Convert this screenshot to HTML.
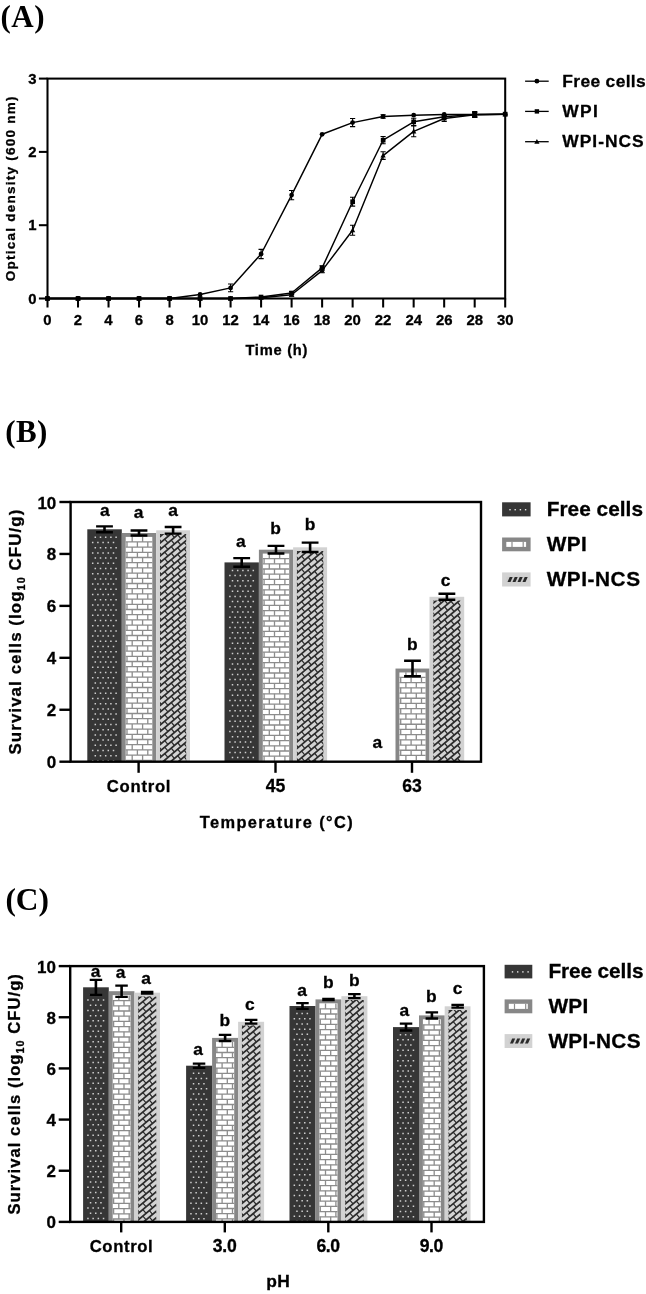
<!DOCTYPE html>
<html lang="en"><head><meta charset="utf-8"><title>Figure</title>
<style>html,body{margin:0;padding:0;background:#fff}svg{display:block}text{font-family:'Liberation Sans', Arial, Helvetica, sans-serif;font-weight:bold;fill:#000;stroke:#000;stroke-width:.3px}</style></head><body>
<svg width="646" height="1294" viewBox="0 0 646 1294">
<rect width="646" height="1294" fill="#fff"/>
<text x="0.5" y="26.6" font-size="31" text-anchor="start" textLength="44.0" lengthAdjust="spacing" style="font-family:'Liberation Serif', 'Times New Roman', Times, serif;stroke:none">(A)</text>
<text x="5.2" y="442.2" font-size="31" text-anchor="start" textLength="42.2" lengthAdjust="spacing" style="font-family:'Liberation Serif', 'Times New Roman', Times, serif;stroke:none">(B)</text>
<text x="5.5" y="910.0" font-size="31.4" text-anchor="start" textLength="43.4" lengthAdjust="spacing" style="font-family:'Liberation Serif', 'Times New Roman', Times, serif;stroke:none">(C)</text>
<g id="panelA">
<rect x="47.5" y="78.6" width="457.7" height="219.9" fill="none" stroke="#000" stroke-width="2.05"/>
<line x1="47.50" y1="298.50" x2="47.50" y2="307.50" stroke="#000" stroke-width="2.05"/>
<text x="47.5" y="325.4" font-size="14.9" text-anchor="middle">0</text>
<line x1="78.01" y1="298.50" x2="78.01" y2="307.50" stroke="#000" stroke-width="2.05"/>
<text x="78.0" y="325.4" font-size="14.9" text-anchor="middle">2</text>
<line x1="108.53" y1="298.50" x2="108.53" y2="307.50" stroke="#000" stroke-width="2.05"/>
<text x="108.5" y="325.4" font-size="14.9" text-anchor="middle">4</text>
<line x1="139.04" y1="298.50" x2="139.04" y2="307.50" stroke="#000" stroke-width="2.05"/>
<text x="139.0" y="325.4" font-size="14.9" text-anchor="middle">6</text>
<line x1="169.55" y1="298.50" x2="169.55" y2="307.50" stroke="#000" stroke-width="2.05"/>
<text x="169.6" y="325.4" font-size="14.9" text-anchor="middle">8</text>
<line x1="200.07" y1="298.50" x2="200.07" y2="307.50" stroke="#000" stroke-width="2.05"/>
<text x="200.1" y="325.4" font-size="14.9" text-anchor="middle">10</text>
<line x1="230.58" y1="298.50" x2="230.58" y2="307.50" stroke="#000" stroke-width="2.05"/>
<text x="230.6" y="325.4" font-size="14.9" text-anchor="middle">12</text>
<line x1="261.09" y1="298.50" x2="261.09" y2="307.50" stroke="#000" stroke-width="2.05"/>
<text x="261.1" y="325.4" font-size="14.9" text-anchor="middle">14</text>
<line x1="291.61" y1="298.50" x2="291.61" y2="307.50" stroke="#000" stroke-width="2.05"/>
<text x="291.6" y="325.4" font-size="14.9" text-anchor="middle">16</text>
<line x1="322.12" y1="298.50" x2="322.12" y2="307.50" stroke="#000" stroke-width="2.05"/>
<text x="322.1" y="325.4" font-size="14.9" text-anchor="middle">18</text>
<line x1="352.63" y1="298.50" x2="352.63" y2="307.50" stroke="#000" stroke-width="2.05"/>
<text x="352.6" y="325.4" font-size="14.9" text-anchor="middle">20</text>
<line x1="383.15" y1="298.50" x2="383.15" y2="307.50" stroke="#000" stroke-width="2.05"/>
<text x="383.1" y="325.4" font-size="14.9" text-anchor="middle">22</text>
<line x1="413.66" y1="298.50" x2="413.66" y2="307.50" stroke="#000" stroke-width="2.05"/>
<text x="413.7" y="325.4" font-size="14.9" text-anchor="middle">24</text>
<line x1="444.17" y1="298.50" x2="444.17" y2="307.50" stroke="#000" stroke-width="2.05"/>
<text x="444.2" y="325.4" font-size="14.9" text-anchor="middle">26</text>
<line x1="474.69" y1="298.50" x2="474.69" y2="307.50" stroke="#000" stroke-width="2.05"/>
<text x="474.7" y="325.4" font-size="14.9" text-anchor="middle">28</text>
<line x1="505.20" y1="298.50" x2="505.20" y2="307.50" stroke="#000" stroke-width="2.05"/>
<text x="505.2" y="325.4" font-size="14.9" text-anchor="middle">30</text>
<line x1="38.90" y1="298.50" x2="47.50" y2="298.50" stroke="#000" stroke-width="2.05"/>
<text x="36.5" y="303.7" font-size="14.9" text-anchor="end">0</text>
<line x1="38.90" y1="225.20" x2="47.50" y2="225.20" stroke="#000" stroke-width="2.05"/>
<text x="36.5" y="230.4" font-size="14.9" text-anchor="end">1</text>
<line x1="38.90" y1="151.90" x2="47.50" y2="151.90" stroke="#000" stroke-width="2.05"/>
<text x="36.5" y="157.1" font-size="14.9" text-anchor="end">2</text>
<line x1="38.90" y1="78.60" x2="47.50" y2="78.60" stroke="#000" stroke-width="2.05"/>
<text x="36.5" y="83.8" font-size="14.9" text-anchor="end">3</text>
<text x="276.4" y="354.6" font-size="14.7" text-anchor="middle" textLength="62.0" lengthAdjust="spacing">Time (h)</text>
<text transform="translate(15.2 188.9) rotate(-90)" font-size="13.5" text-anchor="middle" textLength="184.6" lengthAdjust="spacing">Optical density (600 nm)</text>
<polyline points="47.5,298.5 78.0,298.5 108.5,298.5 139.0,298.5 169.6,298.5 200.1,294.5 230.6,287.9 261.1,254.0 291.6,195.1 322.1,134.3 352.6,122.6 383.1,116.5 413.7,115.2 444.2,114.5 474.7,114.5 505.2,114.2" fill="none" stroke="#000" stroke-width="1.45" stroke-linejoin="round"/>
<circle cx="47.5" cy="298.5" r="2.4"/>
<circle cx="78.0" cy="298.5" r="2.4"/>
<circle cx="108.5" cy="298.5" r="2.4"/>
<circle cx="139.0" cy="298.5" r="2.4"/>
<circle cx="169.6" cy="298.5" r="2.4"/>
<circle cx="200.1" cy="294.5" r="2.4"/>
<path d="M230.6 284.0V291.8M228.0 284.0h5.2M228.0 291.8h5.2" stroke="#000" stroke-width="1.1" fill="none"/>
<circle cx="230.6" cy="287.9" r="2.4"/>
<path d="M261.1 249.4V258.6M258.5 249.4h5.2M258.5 258.6h5.2" stroke="#000" stroke-width="1.1" fill="none"/>
<circle cx="261.1" cy="254.0" r="2.4"/>
<path d="M291.6 190.5V199.8M289.0 190.5h5.2M289.0 199.8h5.2" stroke="#000" stroke-width="1.1" fill="none"/>
<circle cx="291.6" cy="195.1" r="2.4"/>
<circle cx="322.1" cy="134.3" r="2.4"/>
<path d="M352.6 118.5V126.6M350.0 118.5h5.2M350.0 126.6h5.2" stroke="#000" stroke-width="1.1" fill="none"/>
<circle cx="352.6" cy="122.6" r="2.4"/>
<path d="M383.1 114.7V118.3M380.5 114.7h5.2M380.5 118.3h5.2" stroke="#000" stroke-width="1.1" fill="none"/>
<circle cx="383.1" cy="116.5" r="2.4"/>
<circle cx="413.7" cy="115.2" r="2.4"/>
<circle cx="444.2" cy="114.5" r="2.4"/>
<path d="M474.7 112.3V116.7M472.1 112.3h5.2M472.1 116.7h5.2" stroke="#000" stroke-width="1.1" fill="none"/>
<circle cx="474.7" cy="114.5" r="2.4"/>
<circle cx="505.2" cy="114.2" r="2.4"/>
<polyline points="47.5,298.5 78.0,298.5 108.5,298.5 139.0,298.5 169.6,298.5 200.1,298.5 230.6,298.5 261.1,297.0 291.6,293.0 322.1,267.9 352.6,201.7 383.1,140.2 413.7,121.8 444.2,116.7 474.7,114.5 505.2,114.2" fill="none" stroke="#000" stroke-width="1.45" stroke-linejoin="round"/>
<rect x="45.1" y="296.1" width="4.7" height="4.7"/>
<rect x="75.7" y="296.1" width="4.7" height="4.7"/>
<rect x="106.2" y="296.1" width="4.7" height="4.7"/>
<rect x="136.7" y="296.1" width="4.7" height="4.7"/>
<rect x="167.2" y="296.1" width="4.7" height="4.7"/>
<rect x="197.7" y="296.1" width="4.7" height="4.7"/>
<rect x="228.2" y="296.1" width="4.7" height="4.7"/>
<rect x="258.7" y="294.7" width="4.7" height="4.7"/>
<path d="M291.6 291.5V294.5M289.0 291.5h5.2M289.0 294.5h5.2" stroke="#000" stroke-width="1.1" fill="none"/>
<rect x="289.3" y="290.7" width="4.7" height="4.7"/>
<path d="M322.1 265.7V270.1M319.5 265.7h5.2M319.5 270.1h5.2" stroke="#000" stroke-width="1.1" fill="none"/>
<rect x="319.8" y="265.6" width="4.7" height="4.7"/>
<path d="M352.6 197.3V206.1M350.0 197.3h5.2M350.0 206.1h5.2" stroke="#000" stroke-width="1.1" fill="none"/>
<rect x="350.3" y="199.4" width="4.7" height="4.7"/>
<path d="M383.1 136.5V143.8M380.5 136.5h5.2M380.5 143.8h5.2" stroke="#000" stroke-width="1.1" fill="none"/>
<rect x="380.8" y="137.8" width="4.7" height="4.7"/>
<path d="M413.7 118.2V125.5M411.1 118.2h5.2M411.1 125.5h5.2" stroke="#000" stroke-width="1.1" fill="none"/>
<rect x="411.3" y="119.5" width="4.7" height="4.7"/>
<path d="M444.2 114.5V118.9M441.6 114.5h5.2M441.6 118.9h5.2" stroke="#000" stroke-width="1.1" fill="none"/>
<rect x="441.8" y="114.4" width="4.7" height="4.7"/>
<path d="M474.7 111.6V117.4M472.1 111.6h5.2M472.1 117.4h5.2" stroke="#000" stroke-width="1.1" fill="none"/>
<rect x="472.3" y="112.2" width="4.7" height="4.7"/>
<rect x="502.8" y="111.8" width="4.7" height="4.7"/>
<polyline points="47.5,298.5 78.0,298.5 108.5,298.5 139.0,298.5 169.6,298.5 200.1,298.5 230.6,298.5 261.1,297.8 291.6,294.8 322.1,270.6 352.6,230.3 383.1,155.6 413.7,131.4 444.2,118.5 474.7,114.9 505.2,114.2" fill="none" stroke="#000" stroke-width="1.45" stroke-linejoin="round"/>
<path d="M47.5 295.7L50.1 300.5H44.9Z"/>
<path d="M78.0 295.7L80.6 300.5H75.4Z"/>
<path d="M108.5 295.7L111.1 300.5H105.9Z"/>
<path d="M139.0 295.7L141.6 300.5H136.4Z"/>
<path d="M169.6 295.7L172.2 300.5H167.0Z"/>
<path d="M200.1 295.7L202.7 300.5H197.5Z"/>
<path d="M230.6 295.7L233.2 300.5H228.0Z"/>
<path d="M261.1 295.0L263.7 299.8H258.5Z"/>
<path d="M291.6 293.4V296.3M289.0 293.4h5.2M289.0 296.3h5.2" stroke="#000" stroke-width="1.1" fill="none"/>
<path d="M291.6 292.0L294.2 296.8H289.0Z"/>
<path d="M322.1 268.4V272.8M319.5 268.4h5.2M319.5 272.8h5.2" stroke="#000" stroke-width="1.1" fill="none"/>
<path d="M322.1 267.8L324.7 272.6H319.5Z"/>
<path d="M352.6 225.3V235.3M350.0 225.3h5.2M350.0 235.3h5.2" stroke="#000" stroke-width="1.1" fill="none"/>
<path d="M352.6 227.5L355.2 232.3H350.0Z"/>
<path d="M383.1 151.8V159.4M380.5 151.8h5.2M380.5 159.4h5.2" stroke="#000" stroke-width="1.1" fill="none"/>
<path d="M383.1 152.8L385.7 157.6H380.5Z"/>
<path d="M413.7 126.0V136.8M411.1 126.0h5.2M411.1 136.8h5.2" stroke="#000" stroke-width="1.1" fill="none"/>
<path d="M413.7 128.6L416.3 133.4H411.1Z"/>
<path d="M444.2 115.6V121.5M441.6 115.6h5.2M441.6 121.5h5.2" stroke="#000" stroke-width="1.1" fill="none"/>
<path d="M444.2 115.7L446.8 120.5H441.6Z"/>
<path d="M474.7 112.7V117.1M472.1 112.7h5.2M472.1 117.1h5.2" stroke="#000" stroke-width="1.1" fill="none"/>
<path d="M474.7 112.1L477.3 116.9H472.1Z"/>
<path d="M505.2 111.4L507.8 116.2H502.6Z"/>
<line x1="525.10" y1="81.20" x2="548.70" y2="81.20" stroke="#000" stroke-width="1.3"/>
<circle cx="536.9" cy="81.2" r="2.4"/>
<text x="562.3" y="87.1" font-size="17.4" text-anchor="start" textLength="83.4" lengthAdjust="spacing">Free cells</text>
<line x1="525.10" y1="111.40" x2="548.70" y2="111.40" stroke="#000" stroke-width="1.3"/>
<rect x="534.7" y="109.2" width="4.4" height="4.4"/>
<text x="562.3" y="117.0" font-size="17.4" text-anchor="start" textLength="35.6" lengthAdjust="spacing">WPI</text>
<line x1="525.10" y1="141.70" x2="548.70" y2="141.70" stroke="#000" stroke-width="1.3"/>
<path d="M536.9 138.9L539.5 143.7H534.3Z"/>
<text x="562.3" y="146.7" font-size="17.4" text-anchor="start" textLength="81.4" lengthAdjust="spacing">WPI-NCS</text>
</g>
<g id="panelB">
<rect x="87.30" y="529.30" width="34.50" height="232.40" fill="#363636"/>
<path d="M95.30 536.55V761.70M100.50 536.55V761.70M105.70 536.55V761.70M110.90 536.55V761.70M116.10 536.55V761.70M92.70 541.75V761.70M97.90 541.75V761.70M103.10 541.75V761.70M108.30 541.75V761.70M113.50 541.75V761.70" stroke="#cfcfcf" stroke-width="1.5" stroke-dasharray="1.5 8.9" fill="none"/>
<rect x="121.80" y="533.00" width="34.40" height="228.70" fill="#878787"/>
<rect x="125.70" y="536.90" width="26.60" height="224.80" fill="#fff"/>
<path d="M139.00 541.25V761.70" stroke="#8c8c8c" stroke-width="26.60" stroke-dasharray="1.3 3.9" fill="none"/>
<path d="M132.20 536.70V761.70M142.60 536.70V761.70M127.00 541.90V761.70M137.40 541.90V761.70M147.80 541.90V761.70" stroke="#8c8c8c" stroke-width="1.3" stroke-dasharray="5.2 5.2" fill="none"/>
<rect x="156.20" y="530.30" width="33.80" height="231.40" fill="#d2d2d2"/>
<clipPath id="c1"><rect x="160.00" y="534.10" width="26.20" height="227.60"/></clipPath>
<rect x="160.00" y="534.10" width="26.20" height="227.60" fill="#d3d3d3"/>
<g clip-path="url(#c1)" stroke="#2c2c2c" fill="none"><path d="M159.0 530.94L187.2 507.25M159.0 537.44L187.2 513.75M159.0 543.94L187.2 520.25M159.0 550.44L187.2 526.75M159.0 556.94L187.2 533.25M159.0 563.44L187.2 539.75M159.0 569.94L187.2 546.25M159.0 576.44L187.2 552.75M159.0 582.94L187.2 559.25M159.0 589.44L187.2 565.75M159.0 595.94L187.2 572.25M159.0 602.44L187.2 578.75M159.0 608.94L187.2 585.25M159.0 615.44L187.2 591.75M159.0 621.94L187.2 598.25M159.0 628.44L187.2 604.75M159.0 634.94L187.2 611.25M159.0 641.44L187.2 617.75M159.0 647.94L187.2 624.25M159.0 654.44L187.2 630.75M159.0 660.94L187.2 637.25M159.0 667.44L187.2 643.75M159.0 673.94L187.2 650.25M159.0 680.44L187.2 656.75M159.0 686.94L187.2 663.25M159.0 693.44L187.2 669.75M159.0 699.94L187.2 676.25M159.0 706.44L187.2 682.75M159.0 712.94L187.2 689.25M159.0 719.44L187.2 695.75M159.0 725.94L187.2 702.25M159.0 732.44L187.2 708.75M159.0 738.94L187.2 715.25M159.0 745.44L187.2 721.75M159.0 751.94L187.2 728.25M159.0 758.44L187.2 734.75M159.0 764.94L187.2 741.25M159.0 771.44L187.2 747.75M159.0 777.94L187.2 754.25M159.0 784.44L187.2 760.75" stroke-width="1.75"/><path d="M158.20 531.61l3.20 3.81M164.70 526.15l3.20 3.81M171.20 520.69l3.20 3.81M177.70 515.23l3.20 3.81M184.20 509.77l3.20 3.81M158.20 538.11l3.20 3.81M164.70 532.65l3.20 3.81M171.20 527.19l3.20 3.81M177.70 521.73l3.20 3.81M184.20 516.27l3.20 3.81M158.20 544.61l3.20 3.81M164.70 539.15l3.20 3.81M171.20 533.69l3.20 3.81M177.70 528.23l3.20 3.81M184.20 522.77l3.20 3.81M158.20 551.11l3.20 3.81M164.70 545.65l3.20 3.81M171.20 540.19l3.20 3.81M177.70 534.73l3.20 3.81M184.20 529.27l3.20 3.81M158.20 557.61l3.20 3.81M164.70 552.15l3.20 3.81M171.20 546.69l3.20 3.81M177.70 541.23l3.20 3.81M184.20 535.77l3.20 3.81M158.20 564.11l3.20 3.81M164.70 558.65l3.20 3.81M171.20 553.19l3.20 3.81M177.70 547.73l3.20 3.81M184.20 542.27l3.20 3.81M158.20 570.61l3.20 3.81M164.70 565.15l3.20 3.81M171.20 559.69l3.20 3.81M177.70 554.23l3.20 3.81M184.20 548.77l3.20 3.81M158.20 577.11l3.20 3.81M164.70 571.65l3.20 3.81M171.20 566.19l3.20 3.81M177.70 560.73l3.20 3.81M184.20 555.27l3.20 3.81M158.20 583.61l3.20 3.81M164.70 578.15l3.20 3.81M171.20 572.69l3.20 3.81M177.70 567.23l3.20 3.81M184.20 561.77l3.20 3.81M158.20 590.11l3.20 3.81M164.70 584.65l3.20 3.81M171.20 579.19l3.20 3.81M177.70 573.73l3.20 3.81M184.20 568.27l3.20 3.81M158.20 596.61l3.20 3.81M164.70 591.15l3.20 3.81M171.20 585.69l3.20 3.81M177.70 580.23l3.20 3.81M184.20 574.77l3.20 3.81M158.20 603.11l3.20 3.81M164.70 597.65l3.20 3.81M171.20 592.19l3.20 3.81M177.70 586.73l3.20 3.81M184.20 581.27l3.20 3.81M158.20 609.61l3.20 3.81M164.70 604.15l3.20 3.81M171.20 598.69l3.20 3.81M177.70 593.23l3.20 3.81M184.20 587.77l3.20 3.81M158.20 616.11l3.20 3.81M164.70 610.65l3.20 3.81M171.20 605.19l3.20 3.81M177.70 599.73l3.20 3.81M184.20 594.27l3.20 3.81M158.20 622.61l3.20 3.81M164.70 617.15l3.20 3.81M171.20 611.69l3.20 3.81M177.70 606.23l3.20 3.81M184.20 600.77l3.20 3.81M158.20 629.11l3.20 3.81M164.70 623.65l3.20 3.81M171.20 618.19l3.20 3.81M177.70 612.73l3.20 3.81M184.20 607.27l3.20 3.81M158.20 635.61l3.20 3.81M164.70 630.15l3.20 3.81M171.20 624.69l3.20 3.81M177.70 619.23l3.20 3.81M184.20 613.77l3.20 3.81M158.20 642.11l3.20 3.81M164.70 636.65l3.20 3.81M171.20 631.19l3.20 3.81M177.70 625.73l3.20 3.81M184.20 620.27l3.20 3.81M158.20 648.61l3.20 3.81M164.70 643.15l3.20 3.81M171.20 637.69l3.20 3.81M177.70 632.23l3.20 3.81M184.20 626.77l3.20 3.81M158.20 655.11l3.20 3.81M164.70 649.65l3.20 3.81M171.20 644.19l3.20 3.81M177.70 638.73l3.20 3.81M184.20 633.27l3.20 3.81M158.20 661.61l3.20 3.81M164.70 656.15l3.20 3.81M171.20 650.69l3.20 3.81M177.70 645.23l3.20 3.81M184.20 639.77l3.20 3.81M158.20 668.11l3.20 3.81M164.70 662.65l3.20 3.81M171.20 657.19l3.20 3.81M177.70 651.73l3.20 3.81M184.20 646.27l3.20 3.81M158.20 674.61l3.20 3.81M164.70 669.15l3.20 3.81M171.20 663.69l3.20 3.81M177.70 658.23l3.20 3.81M184.20 652.77l3.20 3.81M158.20 681.11l3.20 3.81M164.70 675.65l3.20 3.81M171.20 670.19l3.20 3.81M177.70 664.73l3.20 3.81M184.20 659.27l3.20 3.81M158.20 687.61l3.20 3.81M164.70 682.15l3.20 3.81M171.20 676.69l3.20 3.81M177.70 671.23l3.20 3.81M184.20 665.77l3.20 3.81M158.20 694.11l3.20 3.81M164.70 688.65l3.20 3.81M171.20 683.19l3.20 3.81M177.70 677.73l3.20 3.81M184.20 672.27l3.20 3.81M158.20 700.61l3.20 3.81M164.70 695.15l3.20 3.81M171.20 689.69l3.20 3.81M177.70 684.23l3.20 3.81M184.20 678.77l3.20 3.81M158.20 707.11l3.20 3.81M164.70 701.65l3.20 3.81M171.20 696.19l3.20 3.81M177.70 690.73l3.20 3.81M184.20 685.27l3.20 3.81M158.20 713.61l3.20 3.81M164.70 708.15l3.20 3.81M171.20 702.69l3.20 3.81M177.70 697.23l3.20 3.81M184.20 691.77l3.20 3.81M158.20 720.11l3.20 3.81M164.70 714.65l3.20 3.81M171.20 709.19l3.20 3.81M177.70 703.73l3.20 3.81M184.20 698.27l3.20 3.81M158.20 726.61l3.20 3.81M164.70 721.15l3.20 3.81M171.20 715.69l3.20 3.81M177.70 710.23l3.20 3.81M184.20 704.77l3.20 3.81M158.20 733.11l3.20 3.81M164.70 727.65l3.20 3.81M171.20 722.19l3.20 3.81M177.70 716.73l3.20 3.81M184.20 711.27l3.20 3.81M158.20 739.61l3.20 3.81M164.70 734.15l3.20 3.81M171.20 728.69l3.20 3.81M177.70 723.23l3.20 3.81M184.20 717.77l3.20 3.81M158.20 746.11l3.20 3.81M164.70 740.65l3.20 3.81M171.20 735.19l3.20 3.81M177.70 729.73l3.20 3.81M184.20 724.27l3.20 3.81M158.20 752.61l3.20 3.81M164.70 747.15l3.20 3.81M171.20 741.69l3.20 3.81M177.70 736.23l3.20 3.81M184.20 730.77l3.20 3.81M158.20 759.11l3.20 3.81M164.70 753.65l3.20 3.81M171.20 748.19l3.20 3.81M177.70 742.73l3.20 3.81M184.20 737.27l3.20 3.81M158.20 765.61l3.20 3.81M164.70 760.15l3.20 3.81M171.20 754.69l3.20 3.81M177.70 749.23l3.20 3.81M184.20 743.77l3.20 3.81M158.20 772.11l3.20 3.81M164.70 766.65l3.20 3.81M171.20 761.19l3.20 3.81M177.70 755.73l3.20 3.81M184.20 750.27l3.20 3.81M158.20 778.61l3.20 3.81M164.70 773.15l3.20 3.81M171.20 767.69l3.20 3.81M177.70 762.23l3.20 3.81M184.20 756.77l3.20 3.81M158.20 785.11l3.20 3.81M164.70 779.65l3.20 3.81M171.20 774.19l3.20 3.81M177.70 768.73l3.20 3.81M184.20 763.27l3.20 3.81" stroke-width="1.25"/></g>
<rect x="224.50" y="562.40" width="34.40" height="199.30" fill="#363636"/>
<path d="M232.50 569.65V761.70M237.70 569.65V761.70M242.90 569.65V761.70M248.10 569.65V761.70M253.30 569.65V761.70M229.90 574.85V761.70M235.10 574.85V761.70M240.30 574.85V761.70M245.50 574.85V761.70M250.70 574.85V761.70" stroke="#cfcfcf" stroke-width="1.5" stroke-dasharray="1.5 8.9" fill="none"/>
<rect x="258.90" y="549.70" width="34.20" height="212.00" fill="#878787"/>
<rect x="262.80" y="553.60" width="26.40" height="208.10" fill="#fff"/>
<path d="M276.00 557.95V761.70" stroke="#8c8c8c" stroke-width="26.40" stroke-dasharray="1.3 3.9" fill="none"/>
<path d="M269.30 553.40V761.70M279.70 553.40V761.70M264.10 558.60V761.70M274.50 558.60V761.70M284.90 558.60V761.70" stroke="#8c8c8c" stroke-width="1.3" stroke-dasharray="5.2 5.2" fill="none"/>
<rect x="293.10" y="547.30" width="34.00" height="214.40" fill="#d2d2d2"/>
<clipPath id="c2"><rect x="296.90" y="551.10" width="26.40" height="210.60"/></clipPath>
<rect x="296.90" y="551.10" width="26.40" height="210.60" fill="#d3d3d3"/>
<g clip-path="url(#c2)" stroke="#2c2c2c" fill="none"><path d="M295.9 547.94L324.3 524.08M295.9 554.44L324.3 530.58M295.9 560.94L324.3 537.08M295.9 567.44L324.3 543.58M295.9 573.94L324.3 550.08M295.9 580.44L324.3 556.58M295.9 586.94L324.3 563.08M295.9 593.44L324.3 569.58M295.9 599.94L324.3 576.08M295.9 606.44L324.3 582.58M295.9 612.94L324.3 589.08M295.9 619.44L324.3 595.58M295.9 625.94L324.3 602.08M295.9 632.44L324.3 608.58M295.9 638.94L324.3 615.08M295.9 645.44L324.3 621.58M295.9 651.94L324.3 628.08M295.9 658.44L324.3 634.58M295.9 664.94L324.3 641.08M295.9 671.44L324.3 647.58M295.9 677.94L324.3 654.08M295.9 684.44L324.3 660.58M295.9 690.94L324.3 667.08M295.9 697.44L324.3 673.58M295.9 703.94L324.3 680.08M295.9 710.44L324.3 686.58M295.9 716.94L324.3 693.08M295.9 723.44L324.3 699.58M295.9 729.94L324.3 706.08M295.9 736.44L324.3 712.58M295.9 742.94L324.3 719.08M295.9 749.44L324.3 725.58M295.9 755.94L324.3 732.08M295.9 762.44L324.3 738.58M295.9 768.94L324.3 745.08M295.9 775.44L324.3 751.58M295.9 781.94L324.3 758.08" stroke-width="1.75"/><path d="M295.10 548.61l3.20 3.81M301.60 543.15l3.20 3.81M308.10 537.69l3.20 3.81M314.60 532.23l3.20 3.81M321.10 526.77l3.20 3.81M295.10 555.11l3.20 3.81M301.60 549.65l3.20 3.81M308.10 544.19l3.20 3.81M314.60 538.73l3.20 3.81M321.10 533.27l3.20 3.81M295.10 561.61l3.20 3.81M301.60 556.15l3.20 3.81M308.10 550.69l3.20 3.81M314.60 545.23l3.20 3.81M321.10 539.77l3.20 3.81M295.10 568.11l3.20 3.81M301.60 562.65l3.20 3.81M308.10 557.19l3.20 3.81M314.60 551.73l3.20 3.81M321.10 546.27l3.20 3.81M295.10 574.61l3.20 3.81M301.60 569.15l3.20 3.81M308.10 563.69l3.20 3.81M314.60 558.23l3.20 3.81M321.10 552.77l3.20 3.81M295.10 581.11l3.20 3.81M301.60 575.65l3.20 3.81M308.10 570.19l3.20 3.81M314.60 564.73l3.20 3.81M321.10 559.27l3.20 3.81M295.10 587.61l3.20 3.81M301.60 582.15l3.20 3.81M308.10 576.69l3.20 3.81M314.60 571.23l3.20 3.81M321.10 565.77l3.20 3.81M295.10 594.11l3.20 3.81M301.60 588.65l3.20 3.81M308.10 583.19l3.20 3.81M314.60 577.73l3.20 3.81M321.10 572.27l3.20 3.81M295.10 600.61l3.20 3.81M301.60 595.15l3.20 3.81M308.10 589.69l3.20 3.81M314.60 584.23l3.20 3.81M321.10 578.77l3.20 3.81M295.10 607.11l3.20 3.81M301.60 601.65l3.20 3.81M308.10 596.19l3.20 3.81M314.60 590.73l3.20 3.81M321.10 585.27l3.20 3.81M295.10 613.61l3.20 3.81M301.60 608.15l3.20 3.81M308.10 602.69l3.20 3.81M314.60 597.23l3.20 3.81M321.10 591.77l3.20 3.81M295.10 620.11l3.20 3.81M301.60 614.65l3.20 3.81M308.10 609.19l3.20 3.81M314.60 603.73l3.20 3.81M321.10 598.27l3.20 3.81M295.10 626.61l3.20 3.81M301.60 621.15l3.20 3.81M308.10 615.69l3.20 3.81M314.60 610.23l3.20 3.81M321.10 604.77l3.20 3.81M295.10 633.11l3.20 3.81M301.60 627.65l3.20 3.81M308.10 622.19l3.20 3.81M314.60 616.73l3.20 3.81M321.10 611.27l3.20 3.81M295.10 639.61l3.20 3.81M301.60 634.15l3.20 3.81M308.10 628.69l3.20 3.81M314.60 623.23l3.20 3.81M321.10 617.77l3.20 3.81M295.10 646.11l3.20 3.81M301.60 640.65l3.20 3.81M308.10 635.19l3.20 3.81M314.60 629.73l3.20 3.81M321.10 624.27l3.20 3.81M295.10 652.61l3.20 3.81M301.60 647.15l3.20 3.81M308.10 641.69l3.20 3.81M314.60 636.23l3.20 3.81M321.10 630.77l3.20 3.81M295.10 659.11l3.20 3.81M301.60 653.65l3.20 3.81M308.10 648.19l3.20 3.81M314.60 642.73l3.20 3.81M321.10 637.27l3.20 3.81M295.10 665.61l3.20 3.81M301.60 660.15l3.20 3.81M308.10 654.69l3.20 3.81M314.60 649.23l3.20 3.81M321.10 643.77l3.20 3.81M295.10 672.11l3.20 3.81M301.60 666.65l3.20 3.81M308.10 661.19l3.20 3.81M314.60 655.73l3.20 3.81M321.10 650.27l3.20 3.81M295.10 678.61l3.20 3.81M301.60 673.15l3.20 3.81M308.10 667.69l3.20 3.81M314.60 662.23l3.20 3.81M321.10 656.77l3.20 3.81M295.10 685.11l3.20 3.81M301.60 679.65l3.20 3.81M308.10 674.19l3.20 3.81M314.60 668.73l3.20 3.81M321.10 663.27l3.20 3.81M295.10 691.61l3.20 3.81M301.60 686.15l3.20 3.81M308.10 680.69l3.20 3.81M314.60 675.23l3.20 3.81M321.10 669.77l3.20 3.81M295.10 698.11l3.20 3.81M301.60 692.65l3.20 3.81M308.10 687.19l3.20 3.81M314.60 681.73l3.20 3.81M321.10 676.27l3.20 3.81M295.10 704.61l3.20 3.81M301.60 699.15l3.20 3.81M308.10 693.69l3.20 3.81M314.60 688.23l3.20 3.81M321.10 682.77l3.20 3.81M295.10 711.11l3.20 3.81M301.60 705.65l3.20 3.81M308.10 700.19l3.20 3.81M314.60 694.73l3.20 3.81M321.10 689.27l3.20 3.81M295.10 717.61l3.20 3.81M301.60 712.15l3.20 3.81M308.10 706.69l3.20 3.81M314.60 701.23l3.20 3.81M321.10 695.77l3.20 3.81M295.10 724.11l3.20 3.81M301.60 718.65l3.20 3.81M308.10 713.19l3.20 3.81M314.60 707.73l3.20 3.81M321.10 702.27l3.20 3.81M295.10 730.61l3.20 3.81M301.60 725.15l3.20 3.81M308.10 719.69l3.20 3.81M314.60 714.23l3.20 3.81M321.10 708.77l3.20 3.81M295.10 737.11l3.20 3.81M301.60 731.65l3.20 3.81M308.10 726.19l3.20 3.81M314.60 720.73l3.20 3.81M321.10 715.27l3.20 3.81M295.10 743.61l3.20 3.81M301.60 738.15l3.20 3.81M308.10 732.69l3.20 3.81M314.60 727.23l3.20 3.81M321.10 721.77l3.20 3.81M295.10 750.11l3.20 3.81M301.60 744.65l3.20 3.81M308.10 739.19l3.20 3.81M314.60 733.73l3.20 3.81M321.10 728.27l3.20 3.81M295.10 756.61l3.20 3.81M301.60 751.15l3.20 3.81M308.10 745.69l3.20 3.81M314.60 740.23l3.20 3.81M321.10 734.77l3.20 3.81M295.10 763.11l3.20 3.81M301.60 757.65l3.20 3.81M308.10 752.19l3.20 3.81M314.60 746.73l3.20 3.81M321.10 741.27l3.20 3.81M295.10 769.61l3.20 3.81M301.60 764.15l3.20 3.81M308.10 758.69l3.20 3.81M314.60 753.23l3.20 3.81M321.10 747.77l3.20 3.81M295.10 776.11l3.20 3.81M301.60 770.65l3.20 3.81M308.10 765.19l3.20 3.81M314.60 759.73l3.20 3.81M321.10 754.27l3.20 3.81M295.10 782.61l3.20 3.81M301.60 777.15l3.20 3.81M308.10 771.69l3.20 3.81M314.60 766.23l3.20 3.81M321.10 760.77l3.20 3.81" stroke-width="1.25"/></g>
<rect x="395.50" y="668.55" width="34.00" height="93.15" fill="#878787"/>
<rect x="399.40" y="672.45" width="26.20" height="89.25" fill="#fff"/>
<path d="M412.50 676.80V761.70" stroke="#8c8c8c" stroke-width="26.20" stroke-dasharray="1.3 3.9" fill="none"/>
<path d="M405.90 672.25V761.70M416.30 672.25V761.70M400.70 677.45V761.70M411.10 677.45V761.70M421.50 677.45V761.70" stroke="#8c8c8c" stroke-width="1.3" stroke-dasharray="5.2 5.2" fill="none"/>
<rect x="429.50" y="596.80" width="34.70" height="164.90" fill="#d2d2d2"/>
<clipPath id="c3"><rect x="433.30" y="600.60" width="27.10" height="161.10"/></clipPath>
<rect x="433.30" y="600.60" width="27.10" height="161.10" fill="#d3d3d3"/>
<g clip-path="url(#c3)" stroke="#2c2c2c" fill="none"><path d="M432.3 597.44L461.4 573.00M432.3 603.94L461.4 579.50M432.3 610.44L461.4 586.00M432.3 616.94L461.4 592.50M432.3 623.44L461.4 599.00M432.3 629.94L461.4 605.50M432.3 636.44L461.4 612.00M432.3 642.94L461.4 618.50M432.3 649.44L461.4 625.00M432.3 655.94L461.4 631.50M432.3 662.44L461.4 638.00M432.3 668.94L461.4 644.50M432.3 675.44L461.4 651.00M432.3 681.94L461.4 657.50M432.3 688.44L461.4 664.00M432.3 694.94L461.4 670.50M432.3 701.44L461.4 677.00M432.3 707.94L461.4 683.50M432.3 714.44L461.4 690.00M432.3 720.94L461.4 696.50M432.3 727.44L461.4 703.00M432.3 733.94L461.4 709.50M432.3 740.44L461.4 716.00M432.3 746.94L461.4 722.50M432.3 753.44L461.4 729.00M432.3 759.94L461.4 735.50M432.3 766.44L461.4 742.00M432.3 772.94L461.4 748.50M432.3 779.44L461.4 755.00M432.3 785.94L461.4 761.50" stroke-width="1.75"/><path d="M431.50 598.11l3.20 3.81M438.00 592.65l3.20 3.81M444.50 587.19l3.20 3.81M451.00 581.73l3.20 3.81M457.50 576.27l3.20 3.81M431.50 604.61l3.20 3.81M438.00 599.15l3.20 3.81M444.50 593.69l3.20 3.81M451.00 588.23l3.20 3.81M457.50 582.77l3.20 3.81M431.50 611.11l3.20 3.81M438.00 605.65l3.20 3.81M444.50 600.19l3.20 3.81M451.00 594.73l3.20 3.81M457.50 589.27l3.20 3.81M431.50 617.61l3.20 3.81M438.00 612.15l3.20 3.81M444.50 606.69l3.20 3.81M451.00 601.23l3.20 3.81M457.50 595.77l3.20 3.81M431.50 624.11l3.20 3.81M438.00 618.65l3.20 3.81M444.50 613.19l3.20 3.81M451.00 607.73l3.20 3.81M457.50 602.27l3.20 3.81M431.50 630.61l3.20 3.81M438.00 625.15l3.20 3.81M444.50 619.69l3.20 3.81M451.00 614.23l3.20 3.81M457.50 608.77l3.20 3.81M431.50 637.11l3.20 3.81M438.00 631.65l3.20 3.81M444.50 626.19l3.20 3.81M451.00 620.73l3.20 3.81M457.50 615.27l3.20 3.81M431.50 643.61l3.20 3.81M438.00 638.15l3.20 3.81M444.50 632.69l3.20 3.81M451.00 627.23l3.20 3.81M457.50 621.77l3.20 3.81M431.50 650.11l3.20 3.81M438.00 644.65l3.20 3.81M444.50 639.19l3.20 3.81M451.00 633.73l3.20 3.81M457.50 628.27l3.20 3.81M431.50 656.61l3.20 3.81M438.00 651.15l3.20 3.81M444.50 645.69l3.20 3.81M451.00 640.23l3.20 3.81M457.50 634.77l3.20 3.81M431.50 663.11l3.20 3.81M438.00 657.65l3.20 3.81M444.50 652.19l3.20 3.81M451.00 646.73l3.20 3.81M457.50 641.27l3.20 3.81M431.50 669.61l3.20 3.81M438.00 664.15l3.20 3.81M444.50 658.69l3.20 3.81M451.00 653.23l3.20 3.81M457.50 647.77l3.20 3.81M431.50 676.11l3.20 3.81M438.00 670.65l3.20 3.81M444.50 665.19l3.20 3.81M451.00 659.73l3.20 3.81M457.50 654.27l3.20 3.81M431.50 682.61l3.20 3.81M438.00 677.15l3.20 3.81M444.50 671.69l3.20 3.81M451.00 666.23l3.20 3.81M457.50 660.77l3.20 3.81M431.50 689.11l3.20 3.81M438.00 683.65l3.20 3.81M444.50 678.19l3.20 3.81M451.00 672.73l3.20 3.81M457.50 667.27l3.20 3.81M431.50 695.61l3.20 3.81M438.00 690.15l3.20 3.81M444.50 684.69l3.20 3.81M451.00 679.23l3.20 3.81M457.50 673.77l3.20 3.81M431.50 702.11l3.20 3.81M438.00 696.65l3.20 3.81M444.50 691.19l3.20 3.81M451.00 685.73l3.20 3.81M457.50 680.27l3.20 3.81M431.50 708.61l3.20 3.81M438.00 703.15l3.20 3.81M444.50 697.69l3.20 3.81M451.00 692.23l3.20 3.81M457.50 686.77l3.20 3.81M431.50 715.11l3.20 3.81M438.00 709.65l3.20 3.81M444.50 704.19l3.20 3.81M451.00 698.73l3.20 3.81M457.50 693.27l3.20 3.81M431.50 721.61l3.20 3.81M438.00 716.15l3.20 3.81M444.50 710.69l3.20 3.81M451.00 705.23l3.20 3.81M457.50 699.77l3.20 3.81M431.50 728.11l3.20 3.81M438.00 722.65l3.20 3.81M444.50 717.19l3.20 3.81M451.00 711.73l3.20 3.81M457.50 706.27l3.20 3.81M431.50 734.61l3.20 3.81M438.00 729.15l3.20 3.81M444.50 723.69l3.20 3.81M451.00 718.23l3.20 3.81M457.50 712.77l3.20 3.81M431.50 741.11l3.20 3.81M438.00 735.65l3.20 3.81M444.50 730.19l3.20 3.81M451.00 724.73l3.20 3.81M457.50 719.27l3.20 3.81M431.50 747.61l3.20 3.81M438.00 742.15l3.20 3.81M444.50 736.69l3.20 3.81M451.00 731.23l3.20 3.81M457.50 725.77l3.20 3.81M431.50 754.11l3.20 3.81M438.00 748.65l3.20 3.81M444.50 743.19l3.20 3.81M451.00 737.73l3.20 3.81M457.50 732.27l3.20 3.81M431.50 760.61l3.20 3.81M438.00 755.15l3.20 3.81M444.50 749.69l3.20 3.81M451.00 744.23l3.20 3.81M457.50 738.77l3.20 3.81M431.50 767.11l3.20 3.81M438.00 761.65l3.20 3.81M444.50 756.19l3.20 3.81M451.00 750.73l3.20 3.81M457.50 745.27l3.20 3.81M431.50 773.61l3.20 3.81M438.00 768.15l3.20 3.81M444.50 762.69l3.20 3.81M451.00 757.23l3.20 3.81M457.50 751.77l3.20 3.81M431.50 780.11l3.20 3.81M438.00 774.65l3.20 3.81M444.50 769.19l3.20 3.81M451.00 763.73l3.20 3.81M457.50 758.27l3.20 3.81M431.50 786.61l3.20 3.81M438.00 781.15l3.20 3.81M444.50 775.69l3.20 3.81M451.00 770.23l3.20 3.81M457.50 764.77l3.20 3.81" stroke-width="1.25"/></g>
<path d="M104.5 526.4V532.2" stroke="#000" stroke-width="2.6" fill="none"/><path d="M96.1 526.4h16.8M96.1 532.2h16.8" stroke="#000" stroke-width="2.4" fill="none"/>
<path d="M139.0 530.5V535.5" stroke="#000" stroke-width="2.6" fill="none"/><path d="M130.6 530.5h16.8M130.6 535.5h16.8" stroke="#000" stroke-width="2.4" fill="none"/>
<path d="M173.1 527.0V533.6" stroke="#000" stroke-width="2.6" fill="none"/><path d="M164.7 527.0h16.8M164.7 533.6h16.8" stroke="#000" stroke-width="2.4" fill="none"/>
<text x="104.9" y="515.6" font-size="17.4" text-anchor="middle">a</text>
<text x="138.5" y="518.2" font-size="17.4" text-anchor="middle">a</text>
<text x="173.1" y="515.6" font-size="17.4" text-anchor="middle">a</text>
<path d="M241.7 558.1V566.7" stroke="#000" stroke-width="2.6" fill="none"/><path d="M233.3 558.1h16.8M233.3 566.7h16.8" stroke="#000" stroke-width="2.4" fill="none"/>
<path d="M276.0 545.9V553.5" stroke="#000" stroke-width="2.6" fill="none"/><path d="M267.6 545.9h16.8M267.6 553.5h16.8" stroke="#000" stroke-width="2.4" fill="none"/>
<path d="M310.1 542.6V552.0" stroke="#000" stroke-width="2.6" fill="none"/><path d="M301.7 542.6h16.8M301.7 552.0h16.8" stroke="#000" stroke-width="2.4" fill="none"/>
<text x="240.8" y="546.7" font-size="17.4" text-anchor="middle">a</text>
<text x="275.6" y="533.8" font-size="17.4" text-anchor="middle">b</text>
<text x="310.0" y="529.8" font-size="17.4" text-anchor="middle">b</text>
<path d="M412.5 660.8V676.3" stroke="#000" stroke-width="2.6" fill="none"/><path d="M404.1 660.8h16.8M404.1 676.3h16.8" stroke="#000" stroke-width="2.4" fill="none"/>
<path d="M446.9 593.8V599.8" stroke="#000" stroke-width="2.6" fill="none"/><path d="M438.5 593.8h16.8M438.5 599.8h16.8" stroke="#000" stroke-width="2.4" fill="none"/>
<text x="377.4" y="748.3" font-size="17.4" text-anchor="middle">a</text>
<text x="412.2" y="650.0" font-size="17.4" text-anchor="middle">b</text>
<text x="445.6" y="585.6" font-size="17.4" text-anchor="middle">c</text>
<rect x="70.6" y="502.0" width="410.4" height="259.7" fill="none" stroke="#000" stroke-width="2.4"/>
<line x1="59.40" y1="761.70" x2="70.60" y2="761.70" stroke="#000" stroke-width="2.4"/>
<text x="56.3" y="768.2" font-size="17.0" text-anchor="end">0</text>
<line x1="59.40" y1="709.76" x2="70.60" y2="709.76" stroke="#000" stroke-width="2.4"/>
<text x="56.3" y="716.3" font-size="17.0" text-anchor="end">2</text>
<line x1="59.40" y1="657.82" x2="70.60" y2="657.82" stroke="#000" stroke-width="2.4"/>
<text x="56.3" y="664.3" font-size="17.0" text-anchor="end">4</text>
<line x1="59.40" y1="605.88" x2="70.60" y2="605.88" stroke="#000" stroke-width="2.4"/>
<text x="56.3" y="612.4" font-size="17.0" text-anchor="end">6</text>
<line x1="59.40" y1="553.94" x2="70.60" y2="553.94" stroke="#000" stroke-width="2.4"/>
<text x="56.3" y="560.4" font-size="17.0" text-anchor="end">8</text>
<line x1="59.40" y1="502.00" x2="70.60" y2="502.00" stroke="#000" stroke-width="2.4"/>
<text x="56.3" y="508.5" font-size="17.0" text-anchor="end">10</text>
<line x1="138.60" y1="761.70" x2="138.60" y2="772.80" stroke="#000" stroke-width="2.4"/>
<text x="138.6" y="792.3" font-size="16.7" text-anchor="middle" textLength="63.8" lengthAdjust="spacing">Control</text>
<line x1="275.50" y1="761.70" x2="275.50" y2="772.80" stroke="#000" stroke-width="2.4"/>
<text x="275.5" y="792.3" font-size="17.6" text-anchor="middle" textLength="19.4" lengthAdjust="spacing">45</text>
<line x1="412.00" y1="761.70" x2="412.00" y2="772.80" stroke="#000" stroke-width="2.4"/>
<text x="412.0" y="792.3" font-size="17.6" text-anchor="middle" textLength="19.5" lengthAdjust="spacing">63</text>
<text x="199.7" y="827.5" font-size="16.4" text-anchor="start" textLength="153.0" lengthAdjust="spacing">Temperature (°C)</text>
<text transform="translate(20.8 632.1) rotate(-90)" font-size="16.9" text-anchor="middle" textLength="244.8" lengthAdjust="spacing">Survival cells (log<tspan font-size="10.8" dy="3.8">10</tspan><tspan dy="-3.8"> CFU/g)</tspan></text>
<rect x="502.1" y="502.3" width="28.5" height="14.1" fill="#363636"/>
<rect x="506.3" y="506.5" width="20.1" height="5.7" fill="#363636"/>
<rect x="509.3" y="509.0" width="1.4" height="1.4" fill="#e6e6e6"/>
<rect x="514.5" y="509.0" width="1.4" height="1.4" fill="#e6e6e6"/>
<rect x="519.7" y="509.0" width="1.4" height="1.4" fill="#e6e6e6"/>
<rect x="524.9" y="509.0" width="1.4" height="1.4" fill="#e6e6e6"/>
<text x="546.7" y="515.9" font-size="20.8" text-anchor="start" textLength="96.3" lengthAdjust="spacing">Free cells</text>
<rect x="502.1" y="537.5" width="28.5" height="13.8" fill="#878787"/>
<rect x="506.3" y="541.9" width="19.8" height="5.0" fill="#fff"/>
<path d="M512.0 541.9v5.0M523.2 541.9v5.0" stroke="#8c8c8c" stroke-width="1.2"/>
<text x="546.7" y="551.0" font-size="20.8" text-anchor="start" textLength="40.2" lengthAdjust="spacing">WPI</text>
<rect x="502.1" y="572.4" width="28.5" height="14.1" fill="#d2d2d2"/>
<rect x="506.3" y="576.8" width="19.8" height="5.3" fill="#ccc"/>
<path d="M507.5 582.0h3.0l2.2 -5h-3.0zM512.5 582.0h3.0l2.2 -5h-3.0zM517.5 582.0h3.0l2.2 -5h-3.0zM522.5 582.0h3.0l2.2 -5h-3.0z" fill="#2a2a2a"/>
<text x="546.7" y="586.0" font-size="20.8" text-anchor="start" textLength="93.3" lengthAdjust="spacing">WPI-NCS</text>
</g>
<g id="panelC">
<rect x="83.10" y="987.30" width="25.70" height="234.60" fill="#363636"/>
<path d="M90.55 994.10V1221.90M95.75 994.10V1221.90M100.95 994.10V1221.90M87.95 999.30V1221.90M93.15 999.30V1221.90M98.35 999.30V1221.90M103.55 999.30V1221.90" stroke="#cfcfcf" stroke-width="1.5" stroke-dasharray="1.5 8.9" fill="none"/>
<rect x="108.80" y="991.20" width="25.60" height="230.70" fill="#878787"/>
<rect x="112.70" y="995.10" width="17.80" height="226.80" fill="#fff"/>
<path d="M121.60 999.95V1221.90" stroke="#8c8c8c" stroke-width="17.80" stroke-dasharray="1.3 3.9" fill="none"/>
<path d="M118.80 995.40V1221.90M129.20 995.40V1221.90M113.60 1000.60V1221.90M124.00 1000.60V1221.90" stroke="#8c8c8c" stroke-width="1.3" stroke-dasharray="5.2 5.2" fill="none"/>
<rect x="134.40" y="992.70" width="25.60" height="229.20" fill="#d2d2d2"/>
<clipPath id="c4"><rect x="138.20" y="996.50" width="18.00" height="225.40"/></clipPath>
<rect x="138.20" y="996.50" width="18.00" height="225.40" fill="#d3d3d3"/>
<g clip-path="url(#c4)" stroke="#2c2c2c" fill="none"><path d="M137.2 993.34L157.2 976.54M137.2 999.84L157.2 983.04M137.2 1006.34L157.2 989.54M137.2 1012.84L157.2 996.04M137.2 1019.34L157.2 1002.54M137.2 1025.84L157.2 1009.04M137.2 1032.34L157.2 1015.54M137.2 1038.84L157.2 1022.04M137.2 1045.34L157.2 1028.54M137.2 1051.84L157.2 1035.04M137.2 1058.34L157.2 1041.54M137.2 1064.84L157.2 1048.04M137.2 1071.34L157.2 1054.54M137.2 1077.84L157.2 1061.04M137.2 1084.34L157.2 1067.54M137.2 1090.84L157.2 1074.04M137.2 1097.34L157.2 1080.54M137.2 1103.84L157.2 1087.04M137.2 1110.34L157.2 1093.54M137.2 1116.84L157.2 1100.04M137.2 1123.34L157.2 1106.54M137.2 1129.84L157.2 1113.04M137.2 1136.34L157.2 1119.54M137.2 1142.84L157.2 1126.04M137.2 1149.34L157.2 1132.54M137.2 1155.84L157.2 1139.04M137.2 1162.34L157.2 1145.54M137.2 1168.84L157.2 1152.04M137.2 1175.34L157.2 1158.54M137.2 1181.84L157.2 1165.04M137.2 1188.34L157.2 1171.54M137.2 1194.84L157.2 1178.04M137.2 1201.34L157.2 1184.54M137.2 1207.84L157.2 1191.04M137.2 1214.34L157.2 1197.54M137.2 1220.84L157.2 1204.04M137.2 1227.34L157.2 1210.54M137.2 1233.84L157.2 1217.04" stroke-width="1.75"/><path d="M136.40 994.01l3.20 3.81M142.90 988.55l3.20 3.81M149.40 983.09l3.20 3.81M155.90 977.63l3.20 3.81M136.40 1000.51l3.20 3.81M142.90 995.05l3.20 3.81M149.40 989.59l3.20 3.81M155.90 984.13l3.20 3.81M136.40 1007.01l3.20 3.81M142.90 1001.55l3.20 3.81M149.40 996.09l3.20 3.81M155.90 990.63l3.20 3.81M136.40 1013.51l3.20 3.81M142.90 1008.05l3.20 3.81M149.40 1002.59l3.20 3.81M155.90 997.13l3.20 3.81M136.40 1020.01l3.20 3.81M142.90 1014.55l3.20 3.81M149.40 1009.09l3.20 3.81M155.90 1003.63l3.20 3.81M136.40 1026.51l3.20 3.81M142.90 1021.05l3.20 3.81M149.40 1015.59l3.20 3.81M155.90 1010.13l3.20 3.81M136.40 1033.01l3.20 3.81M142.90 1027.55l3.20 3.81M149.40 1022.09l3.20 3.81M155.90 1016.63l3.20 3.81M136.40 1039.51l3.20 3.81M142.90 1034.05l3.20 3.81M149.40 1028.59l3.20 3.81M155.90 1023.13l3.20 3.81M136.40 1046.01l3.20 3.81M142.90 1040.55l3.20 3.81M149.40 1035.09l3.20 3.81M155.90 1029.63l3.20 3.81M136.40 1052.51l3.20 3.81M142.90 1047.05l3.20 3.81M149.40 1041.59l3.20 3.81M155.90 1036.13l3.20 3.81M136.40 1059.01l3.20 3.81M142.90 1053.55l3.20 3.81M149.40 1048.09l3.20 3.81M155.90 1042.63l3.20 3.81M136.40 1065.51l3.20 3.81M142.90 1060.05l3.20 3.81M149.40 1054.59l3.20 3.81M155.90 1049.13l3.20 3.81M136.40 1072.01l3.20 3.81M142.90 1066.55l3.20 3.81M149.40 1061.09l3.20 3.81M155.90 1055.63l3.20 3.81M136.40 1078.51l3.20 3.81M142.90 1073.05l3.20 3.81M149.40 1067.59l3.20 3.81M155.90 1062.13l3.20 3.81M136.40 1085.01l3.20 3.81M142.90 1079.55l3.20 3.81M149.40 1074.09l3.20 3.81M155.90 1068.63l3.20 3.81M136.40 1091.51l3.20 3.81M142.90 1086.05l3.20 3.81M149.40 1080.59l3.20 3.81M155.90 1075.13l3.20 3.81M136.40 1098.01l3.20 3.81M142.90 1092.55l3.20 3.81M149.40 1087.09l3.20 3.81M155.90 1081.63l3.20 3.81M136.40 1104.51l3.20 3.81M142.90 1099.05l3.20 3.81M149.40 1093.59l3.20 3.81M155.90 1088.13l3.20 3.81M136.40 1111.01l3.20 3.81M142.90 1105.55l3.20 3.81M149.40 1100.09l3.20 3.81M155.90 1094.63l3.20 3.81M136.40 1117.51l3.20 3.81M142.90 1112.05l3.20 3.81M149.40 1106.59l3.20 3.81M155.90 1101.13l3.20 3.81M136.40 1124.01l3.20 3.81M142.90 1118.55l3.20 3.81M149.40 1113.09l3.20 3.81M155.90 1107.63l3.20 3.81M136.40 1130.51l3.20 3.81M142.90 1125.05l3.20 3.81M149.40 1119.59l3.20 3.81M155.90 1114.13l3.20 3.81M136.40 1137.01l3.20 3.81M142.90 1131.55l3.20 3.81M149.40 1126.09l3.20 3.81M155.90 1120.63l3.20 3.81M136.40 1143.51l3.20 3.81M142.90 1138.05l3.20 3.81M149.40 1132.59l3.20 3.81M155.90 1127.13l3.20 3.81M136.40 1150.01l3.20 3.81M142.90 1144.55l3.20 3.81M149.40 1139.09l3.20 3.81M155.90 1133.63l3.20 3.81M136.40 1156.51l3.20 3.81M142.90 1151.05l3.20 3.81M149.40 1145.59l3.20 3.81M155.90 1140.13l3.20 3.81M136.40 1163.01l3.20 3.81M142.90 1157.55l3.20 3.81M149.40 1152.09l3.20 3.81M155.90 1146.63l3.20 3.81M136.40 1169.51l3.20 3.81M142.90 1164.05l3.20 3.81M149.40 1158.59l3.20 3.81M155.90 1153.13l3.20 3.81M136.40 1176.01l3.20 3.81M142.90 1170.55l3.20 3.81M149.40 1165.09l3.20 3.81M155.90 1159.63l3.20 3.81M136.40 1182.51l3.20 3.81M142.90 1177.05l3.20 3.81M149.40 1171.59l3.20 3.81M155.90 1166.13l3.20 3.81M136.40 1189.01l3.20 3.81M142.90 1183.55l3.20 3.81M149.40 1178.09l3.20 3.81M155.90 1172.63l3.20 3.81M136.40 1195.51l3.20 3.81M142.90 1190.05l3.20 3.81M149.40 1184.59l3.20 3.81M155.90 1179.13l3.20 3.81M136.40 1202.01l3.20 3.81M142.90 1196.55l3.20 3.81M149.40 1191.09l3.20 3.81M155.90 1185.63l3.20 3.81M136.40 1208.51l3.20 3.81M142.90 1203.05l3.20 3.81M149.40 1197.59l3.20 3.81M155.90 1192.13l3.20 3.81M136.40 1215.01l3.20 3.81M142.90 1209.55l3.20 3.81M149.40 1204.09l3.20 3.81M155.90 1198.63l3.20 3.81M136.40 1221.51l3.20 3.81M142.90 1216.05l3.20 3.81M149.40 1210.59l3.20 3.81M155.90 1205.13l3.20 3.81M136.40 1228.01l3.20 3.81M142.90 1222.55l3.20 3.81M149.40 1217.09l3.20 3.81M155.90 1211.63l3.20 3.81M136.40 1234.51l3.20 3.81M142.90 1229.05l3.20 3.81M149.40 1223.59l3.20 3.81M155.90 1218.13l3.20 3.81" stroke-width="1.25"/></g>
<rect x="186.10" y="1065.70" width="26.00" height="156.20" fill="#363636"/>
<path d="M193.55 1072.50V1221.90M198.75 1072.50V1221.90M203.95 1072.50V1221.90M190.95 1077.70V1221.90M196.15 1077.70V1221.90M201.35 1077.70V1221.90M206.55 1077.70V1221.90" stroke="#cfcfcf" stroke-width="1.5" stroke-dasharray="1.5 8.9" fill="none"/>
<rect x="212.10" y="1037.90" width="26.00" height="184.00" fill="#878787"/>
<rect x="216.00" y="1041.80" width="18.20" height="180.10" fill="#fff"/>
<path d="M225.10 1046.65V1221.90" stroke="#8c8c8c" stroke-width="18.20" stroke-dasharray="1.3 3.9" fill="none"/>
<path d="M222.10 1042.10V1221.90M232.50 1042.10V1221.90M216.90 1047.30V1221.90M227.30 1047.30V1221.90" stroke="#8c8c8c" stroke-width="1.3" stroke-dasharray="5.2 5.2" fill="none"/>
<rect x="238.10" y="1021.80" width="26.00" height="200.10" fill="#d2d2d2"/>
<clipPath id="c5"><rect x="241.90" y="1025.60" width="18.40" height="196.30"/></clipPath>
<rect x="241.90" y="1025.60" width="18.40" height="196.30" fill="#d3d3d3"/>
<g clip-path="url(#c5)" stroke="#2c2c2c" fill="none"><path d="M240.9 1022.44L261.3 1005.30M240.9 1028.94L261.3 1011.80M240.9 1035.44L261.3 1018.30M240.9 1041.94L261.3 1024.80M240.9 1048.44L261.3 1031.30M240.9 1054.94L261.3 1037.80M240.9 1061.44L261.3 1044.30M240.9 1067.94L261.3 1050.80M240.9 1074.44L261.3 1057.30M240.9 1080.94L261.3 1063.80M240.9 1087.44L261.3 1070.30M240.9 1093.94L261.3 1076.80M240.9 1100.44L261.3 1083.30M240.9 1106.94L261.3 1089.80M240.9 1113.44L261.3 1096.30M240.9 1119.94L261.3 1102.80M240.9 1126.44L261.3 1109.30M240.9 1132.94L261.3 1115.80M240.9 1139.44L261.3 1122.30M240.9 1145.94L261.3 1128.80M240.9 1152.44L261.3 1135.30M240.9 1158.94L261.3 1141.80M240.9 1165.44L261.3 1148.30M240.9 1171.94L261.3 1154.80M240.9 1178.44L261.3 1161.30M240.9 1184.94L261.3 1167.80M240.9 1191.44L261.3 1174.30M240.9 1197.94L261.3 1180.80M240.9 1204.44L261.3 1187.30M240.9 1210.94L261.3 1193.80M240.9 1217.44L261.3 1200.30M240.9 1223.94L261.3 1206.80M240.9 1230.44L261.3 1213.30M240.9 1236.94L261.3 1219.80" stroke-width="1.75"/><path d="M240.10 1023.11l3.20 3.81M246.60 1017.65l3.20 3.81M253.10 1012.19l3.20 3.81M259.60 1006.73l3.20 3.81M240.10 1029.61l3.20 3.81M246.60 1024.15l3.20 3.81M253.10 1018.69l3.20 3.81M259.60 1013.23l3.20 3.81M240.10 1036.11l3.20 3.81M246.60 1030.65l3.20 3.81M253.10 1025.19l3.20 3.81M259.60 1019.73l3.20 3.81M240.10 1042.61l3.20 3.81M246.60 1037.15l3.20 3.81M253.10 1031.69l3.20 3.81M259.60 1026.23l3.20 3.81M240.10 1049.11l3.20 3.81M246.60 1043.65l3.20 3.81M253.10 1038.19l3.20 3.81M259.60 1032.73l3.20 3.81M240.10 1055.61l3.20 3.81M246.60 1050.15l3.20 3.81M253.10 1044.69l3.20 3.81M259.60 1039.23l3.20 3.81M240.10 1062.11l3.20 3.81M246.60 1056.65l3.20 3.81M253.10 1051.19l3.20 3.81M259.60 1045.73l3.20 3.81M240.10 1068.61l3.20 3.81M246.60 1063.15l3.20 3.81M253.10 1057.69l3.20 3.81M259.60 1052.23l3.20 3.81M240.10 1075.11l3.20 3.81M246.60 1069.65l3.20 3.81M253.10 1064.19l3.20 3.81M259.60 1058.73l3.20 3.81M240.10 1081.61l3.20 3.81M246.60 1076.15l3.20 3.81M253.10 1070.69l3.20 3.81M259.60 1065.23l3.20 3.81M240.10 1088.11l3.20 3.81M246.60 1082.65l3.20 3.81M253.10 1077.19l3.20 3.81M259.60 1071.73l3.20 3.81M240.10 1094.61l3.20 3.81M246.60 1089.15l3.20 3.81M253.10 1083.69l3.20 3.81M259.60 1078.23l3.20 3.81M240.10 1101.11l3.20 3.81M246.60 1095.65l3.20 3.81M253.10 1090.19l3.20 3.81M259.60 1084.73l3.20 3.81M240.10 1107.61l3.20 3.81M246.60 1102.15l3.20 3.81M253.10 1096.69l3.20 3.81M259.60 1091.23l3.20 3.81M240.10 1114.11l3.20 3.81M246.60 1108.65l3.20 3.81M253.10 1103.19l3.20 3.81M259.60 1097.73l3.20 3.81M240.10 1120.61l3.20 3.81M246.60 1115.15l3.20 3.81M253.10 1109.69l3.20 3.81M259.60 1104.23l3.20 3.81M240.10 1127.11l3.20 3.81M246.60 1121.65l3.20 3.81M253.10 1116.19l3.20 3.81M259.60 1110.73l3.20 3.81M240.10 1133.61l3.20 3.81M246.60 1128.15l3.20 3.81M253.10 1122.69l3.20 3.81M259.60 1117.23l3.20 3.81M240.10 1140.11l3.20 3.81M246.60 1134.65l3.20 3.81M253.10 1129.19l3.20 3.81M259.60 1123.73l3.20 3.81M240.10 1146.61l3.20 3.81M246.60 1141.15l3.20 3.81M253.10 1135.69l3.20 3.81M259.60 1130.23l3.20 3.81M240.10 1153.11l3.20 3.81M246.60 1147.65l3.20 3.81M253.10 1142.19l3.20 3.81M259.60 1136.73l3.20 3.81M240.10 1159.61l3.20 3.81M246.60 1154.15l3.20 3.81M253.10 1148.69l3.20 3.81M259.60 1143.23l3.20 3.81M240.10 1166.11l3.20 3.81M246.60 1160.65l3.20 3.81M253.10 1155.19l3.20 3.81M259.60 1149.73l3.20 3.81M240.10 1172.61l3.20 3.81M246.60 1167.15l3.20 3.81M253.10 1161.69l3.20 3.81M259.60 1156.23l3.20 3.81M240.10 1179.11l3.20 3.81M246.60 1173.65l3.20 3.81M253.10 1168.19l3.20 3.81M259.60 1162.73l3.20 3.81M240.10 1185.61l3.20 3.81M246.60 1180.15l3.20 3.81M253.10 1174.69l3.20 3.81M259.60 1169.23l3.20 3.81M240.10 1192.11l3.20 3.81M246.60 1186.65l3.20 3.81M253.10 1181.19l3.20 3.81M259.60 1175.73l3.20 3.81M240.10 1198.61l3.20 3.81M246.60 1193.15l3.20 3.81M253.10 1187.69l3.20 3.81M259.60 1182.23l3.20 3.81M240.10 1205.11l3.20 3.81M246.60 1199.65l3.20 3.81M253.10 1194.19l3.20 3.81M259.60 1188.73l3.20 3.81M240.10 1211.61l3.20 3.81M246.60 1206.15l3.20 3.81M253.10 1200.69l3.20 3.81M259.60 1195.23l3.20 3.81M240.10 1218.11l3.20 3.81M246.60 1212.65l3.20 3.81M253.10 1207.19l3.20 3.81M259.60 1201.73l3.20 3.81M240.10 1224.61l3.20 3.81M246.60 1219.15l3.20 3.81M253.10 1213.69l3.20 3.81M259.60 1208.23l3.20 3.81M240.10 1231.11l3.20 3.81M246.60 1225.65l3.20 3.81M253.10 1220.19l3.20 3.81M259.60 1214.73l3.20 3.81M240.10 1237.61l3.20 3.81M246.60 1232.15l3.20 3.81M253.10 1226.69l3.20 3.81M259.60 1221.23l3.20 3.81" stroke-width="1.25"/></g>
<rect x="289.50" y="1006.00" width="26.00" height="215.90" fill="#363636"/>
<path d="M296.95 1012.80V1221.90M302.15 1012.80V1221.90M307.35 1012.80V1221.90M294.35 1018.00V1221.90M299.55 1018.00V1221.90M304.75 1018.00V1221.90M309.95 1018.00V1221.90" stroke="#cfcfcf" stroke-width="1.5" stroke-dasharray="1.5 8.9" fill="none"/>
<rect x="315.50" y="999.40" width="25.90" height="222.50" fill="#878787"/>
<rect x="319.40" y="1003.30" width="18.10" height="218.60" fill="#fff"/>
<path d="M328.45 1008.15V1221.90" stroke="#8c8c8c" stroke-width="18.10" stroke-dasharray="1.3 3.9" fill="none"/>
<path d="M325.50 1003.60V1221.90M335.90 1003.60V1221.90M320.30 1008.80V1221.90M330.70 1008.80V1221.90" stroke="#8c8c8c" stroke-width="1.3" stroke-dasharray="5.2 5.2" fill="none"/>
<rect x="341.40" y="996.20" width="26.00" height="225.70" fill="#d2d2d2"/>
<clipPath id="c6"><rect x="345.20" y="1000.00" width="18.40" height="221.90"/></clipPath>
<rect x="345.20" y="1000.00" width="18.40" height="221.90" fill="#d3d3d3"/>
<g clip-path="url(#c6)" stroke="#2c2c2c" fill="none"><path d="M344.2 996.84L364.6 979.70M344.2 1003.34L364.6 986.20M344.2 1009.84L364.6 992.70M344.2 1016.34L364.6 999.20M344.2 1022.84L364.6 1005.70M344.2 1029.34L364.6 1012.20M344.2 1035.84L364.6 1018.70M344.2 1042.34L364.6 1025.20M344.2 1048.84L364.6 1031.70M344.2 1055.34L364.6 1038.20M344.2 1061.84L364.6 1044.70M344.2 1068.34L364.6 1051.20M344.2 1074.84L364.6 1057.70M344.2 1081.34L364.6 1064.20M344.2 1087.84L364.6 1070.70M344.2 1094.34L364.6 1077.20M344.2 1100.84L364.6 1083.70M344.2 1107.34L364.6 1090.20M344.2 1113.84L364.6 1096.70M344.2 1120.34L364.6 1103.20M344.2 1126.84L364.6 1109.70M344.2 1133.34L364.6 1116.20M344.2 1139.84L364.6 1122.70M344.2 1146.34L364.6 1129.20M344.2 1152.84L364.6 1135.70M344.2 1159.34L364.6 1142.20M344.2 1165.84L364.6 1148.70M344.2 1172.34L364.6 1155.20M344.2 1178.84L364.6 1161.70M344.2 1185.34L364.6 1168.20M344.2 1191.84L364.6 1174.70M344.2 1198.34L364.6 1181.20M344.2 1204.84L364.6 1187.70M344.2 1211.34L364.6 1194.20M344.2 1217.84L364.6 1200.70M344.2 1224.34L364.6 1207.20M344.2 1230.84L364.6 1213.70M344.2 1237.34L364.6 1220.20" stroke-width="1.75"/><path d="M343.40 997.51l3.20 3.81M349.90 992.05l3.20 3.81M356.40 986.59l3.20 3.81M362.90 981.13l3.20 3.81M343.40 1004.01l3.20 3.81M349.90 998.55l3.20 3.81M356.40 993.09l3.20 3.81M362.90 987.63l3.20 3.81M343.40 1010.51l3.20 3.81M349.90 1005.05l3.20 3.81M356.40 999.59l3.20 3.81M362.90 994.13l3.20 3.81M343.40 1017.01l3.20 3.81M349.90 1011.55l3.20 3.81M356.40 1006.09l3.20 3.81M362.90 1000.63l3.20 3.81M343.40 1023.51l3.20 3.81M349.90 1018.05l3.20 3.81M356.40 1012.59l3.20 3.81M362.90 1007.13l3.20 3.81M343.40 1030.01l3.20 3.81M349.90 1024.55l3.20 3.81M356.40 1019.09l3.20 3.81M362.90 1013.63l3.20 3.81M343.40 1036.51l3.20 3.81M349.90 1031.05l3.20 3.81M356.40 1025.59l3.20 3.81M362.90 1020.13l3.20 3.81M343.40 1043.01l3.20 3.81M349.90 1037.55l3.20 3.81M356.40 1032.09l3.20 3.81M362.90 1026.63l3.20 3.81M343.40 1049.51l3.20 3.81M349.90 1044.05l3.20 3.81M356.40 1038.59l3.20 3.81M362.90 1033.13l3.20 3.81M343.40 1056.01l3.20 3.81M349.90 1050.55l3.20 3.81M356.40 1045.09l3.20 3.81M362.90 1039.63l3.20 3.81M343.40 1062.51l3.20 3.81M349.90 1057.05l3.20 3.81M356.40 1051.59l3.20 3.81M362.90 1046.13l3.20 3.81M343.40 1069.01l3.20 3.81M349.90 1063.55l3.20 3.81M356.40 1058.09l3.20 3.81M362.90 1052.63l3.20 3.81M343.40 1075.51l3.20 3.81M349.90 1070.05l3.20 3.81M356.40 1064.59l3.20 3.81M362.90 1059.13l3.20 3.81M343.40 1082.01l3.20 3.81M349.90 1076.55l3.20 3.81M356.40 1071.09l3.20 3.81M362.90 1065.63l3.20 3.81M343.40 1088.51l3.20 3.81M349.90 1083.05l3.20 3.81M356.40 1077.59l3.20 3.81M362.90 1072.13l3.20 3.81M343.40 1095.01l3.20 3.81M349.90 1089.55l3.20 3.81M356.40 1084.09l3.20 3.81M362.90 1078.63l3.20 3.81M343.40 1101.51l3.20 3.81M349.90 1096.05l3.20 3.81M356.40 1090.59l3.20 3.81M362.90 1085.13l3.20 3.81M343.40 1108.01l3.20 3.81M349.90 1102.55l3.20 3.81M356.40 1097.09l3.20 3.81M362.90 1091.63l3.20 3.81M343.40 1114.51l3.20 3.81M349.90 1109.05l3.20 3.81M356.40 1103.59l3.20 3.81M362.90 1098.13l3.20 3.81M343.40 1121.01l3.20 3.81M349.90 1115.55l3.20 3.81M356.40 1110.09l3.20 3.81M362.90 1104.63l3.20 3.81M343.40 1127.51l3.20 3.81M349.90 1122.05l3.20 3.81M356.40 1116.59l3.20 3.81M362.90 1111.13l3.20 3.81M343.40 1134.01l3.20 3.81M349.90 1128.55l3.20 3.81M356.40 1123.09l3.20 3.81M362.90 1117.63l3.20 3.81M343.40 1140.51l3.20 3.81M349.90 1135.05l3.20 3.81M356.40 1129.59l3.20 3.81M362.90 1124.13l3.20 3.81M343.40 1147.01l3.20 3.81M349.90 1141.55l3.20 3.81M356.40 1136.09l3.20 3.81M362.90 1130.63l3.20 3.81M343.40 1153.51l3.20 3.81M349.90 1148.05l3.20 3.81M356.40 1142.59l3.20 3.81M362.90 1137.13l3.20 3.81M343.40 1160.01l3.20 3.81M349.90 1154.55l3.20 3.81M356.40 1149.09l3.20 3.81M362.90 1143.63l3.20 3.81M343.40 1166.51l3.20 3.81M349.90 1161.05l3.20 3.81M356.40 1155.59l3.20 3.81M362.90 1150.13l3.20 3.81M343.40 1173.01l3.20 3.81M349.90 1167.55l3.20 3.81M356.40 1162.09l3.20 3.81M362.90 1156.63l3.20 3.81M343.40 1179.51l3.20 3.81M349.90 1174.05l3.20 3.81M356.40 1168.59l3.20 3.81M362.90 1163.13l3.20 3.81M343.40 1186.01l3.20 3.81M349.90 1180.55l3.20 3.81M356.40 1175.09l3.20 3.81M362.90 1169.63l3.20 3.81M343.40 1192.51l3.20 3.81M349.90 1187.05l3.20 3.81M356.40 1181.59l3.20 3.81M362.90 1176.13l3.20 3.81M343.40 1199.01l3.20 3.81M349.90 1193.55l3.20 3.81M356.40 1188.09l3.20 3.81M362.90 1182.63l3.20 3.81M343.40 1205.51l3.20 3.81M349.90 1200.05l3.20 3.81M356.40 1194.59l3.20 3.81M362.90 1189.13l3.20 3.81M343.40 1212.01l3.20 3.81M349.90 1206.55l3.20 3.81M356.40 1201.09l3.20 3.81M362.90 1195.63l3.20 3.81M343.40 1218.51l3.20 3.81M349.90 1213.05l3.20 3.81M356.40 1207.59l3.20 3.81M362.90 1202.13l3.20 3.81M343.40 1225.01l3.20 3.81M349.90 1219.55l3.20 3.81M356.40 1214.09l3.20 3.81M362.90 1208.63l3.20 3.81M343.40 1231.51l3.20 3.81M349.90 1226.05l3.20 3.81M356.40 1220.59l3.20 3.81M362.90 1215.13l3.20 3.81M343.40 1238.01l3.20 3.81M349.90 1232.55l3.20 3.81M356.40 1227.09l3.20 3.81M362.90 1221.63l3.20 3.81" stroke-width="1.25"/></g>
<rect x="393.00" y="1027.10" width="26.00" height="194.80" fill="#363636"/>
<path d="M400.45 1033.90V1221.90M405.65 1033.90V1221.90M410.85 1033.90V1221.90M397.85 1039.10V1221.90M403.05 1039.10V1221.90M408.25 1039.10V1221.90M413.45 1039.10V1221.90" stroke="#cfcfcf" stroke-width="1.5" stroke-dasharray="1.5 8.9" fill="none"/>
<rect x="419.00" y="1015.40" width="25.70" height="206.50" fill="#878787"/>
<rect x="422.90" y="1019.30" width="17.90" height="202.60" fill="#fff"/>
<path d="M431.85 1024.15V1221.90" stroke="#8c8c8c" stroke-width="17.90" stroke-dasharray="1.3 3.9" fill="none"/>
<path d="M429.00 1019.60V1221.90M439.40 1019.60V1221.90M423.80 1024.80V1221.90M434.20 1024.80V1221.90" stroke="#8c8c8c" stroke-width="1.3" stroke-dasharray="5.2 5.2" fill="none"/>
<rect x="444.70" y="1006.30" width="25.80" height="215.60" fill="#d2d2d2"/>
<clipPath id="c7"><rect x="448.50" y="1010.10" width="18.20" height="211.80"/></clipPath>
<rect x="448.50" y="1010.10" width="18.20" height="211.80" fill="#d3d3d3"/>
<g clip-path="url(#c7)" stroke="#2c2c2c" fill="none"><path d="M447.5 1006.94L467.7 989.97M447.5 1013.44L467.7 996.47M447.5 1019.94L467.7 1002.97M447.5 1026.44L467.7 1009.47M447.5 1032.94L467.7 1015.97M447.5 1039.44L467.7 1022.47M447.5 1045.94L467.7 1028.97M447.5 1052.44L467.7 1035.47M447.5 1058.94L467.7 1041.97M447.5 1065.44L467.7 1048.47M447.5 1071.94L467.7 1054.97M447.5 1078.44L467.7 1061.47M447.5 1084.94L467.7 1067.97M447.5 1091.44L467.7 1074.47M447.5 1097.94L467.7 1080.97M447.5 1104.44L467.7 1087.47M447.5 1110.94L467.7 1093.97M447.5 1117.44L467.7 1100.47M447.5 1123.94L467.7 1106.97M447.5 1130.44L467.7 1113.47M447.5 1136.94L467.7 1119.97M447.5 1143.44L467.7 1126.47M447.5 1149.94L467.7 1132.97M447.5 1156.44L467.7 1139.47M447.5 1162.94L467.7 1145.97M447.5 1169.44L467.7 1152.47M447.5 1175.94L467.7 1158.97M447.5 1182.44L467.7 1165.47M447.5 1188.94L467.7 1171.97M447.5 1195.44L467.7 1178.47M447.5 1201.94L467.7 1184.97M447.5 1208.44L467.7 1191.47M447.5 1214.94L467.7 1197.97M447.5 1221.44L467.7 1204.47M447.5 1227.94L467.7 1210.97M447.5 1234.44L467.7 1217.47" stroke-width="1.75"/><path d="M446.70 1007.61l3.20 3.81M453.20 1002.15l3.20 3.81M459.70 996.69l3.20 3.81M466.20 991.23l3.20 3.81M446.70 1014.11l3.20 3.81M453.20 1008.65l3.20 3.81M459.70 1003.19l3.20 3.81M466.20 997.73l3.20 3.81M446.70 1020.61l3.20 3.81M453.20 1015.15l3.20 3.81M459.70 1009.69l3.20 3.81M466.20 1004.23l3.20 3.81M446.70 1027.11l3.20 3.81M453.20 1021.65l3.20 3.81M459.70 1016.19l3.20 3.81M466.20 1010.73l3.20 3.81M446.70 1033.61l3.20 3.81M453.20 1028.15l3.20 3.81M459.70 1022.69l3.20 3.81M466.20 1017.23l3.20 3.81M446.70 1040.11l3.20 3.81M453.20 1034.65l3.20 3.81M459.70 1029.19l3.20 3.81M466.20 1023.73l3.20 3.81M446.70 1046.61l3.20 3.81M453.20 1041.15l3.20 3.81M459.70 1035.69l3.20 3.81M466.20 1030.23l3.20 3.81M446.70 1053.11l3.20 3.81M453.20 1047.65l3.20 3.81M459.70 1042.19l3.20 3.81M466.20 1036.73l3.20 3.81M446.70 1059.61l3.20 3.81M453.20 1054.15l3.20 3.81M459.70 1048.69l3.20 3.81M466.20 1043.23l3.20 3.81M446.70 1066.11l3.20 3.81M453.20 1060.65l3.20 3.81M459.70 1055.19l3.20 3.81M466.20 1049.73l3.20 3.81M446.70 1072.61l3.20 3.81M453.20 1067.15l3.20 3.81M459.70 1061.69l3.20 3.81M466.20 1056.23l3.20 3.81M446.70 1079.11l3.20 3.81M453.20 1073.65l3.20 3.81M459.70 1068.19l3.20 3.81M466.20 1062.73l3.20 3.81M446.70 1085.61l3.20 3.81M453.20 1080.15l3.20 3.81M459.70 1074.69l3.20 3.81M466.20 1069.23l3.20 3.81M446.70 1092.11l3.20 3.81M453.20 1086.65l3.20 3.81M459.70 1081.19l3.20 3.81M466.20 1075.73l3.20 3.81M446.70 1098.61l3.20 3.81M453.20 1093.15l3.20 3.81M459.70 1087.69l3.20 3.81M466.20 1082.23l3.20 3.81M446.70 1105.11l3.20 3.81M453.20 1099.65l3.20 3.81M459.70 1094.19l3.20 3.81M466.20 1088.73l3.20 3.81M446.70 1111.61l3.20 3.81M453.20 1106.15l3.20 3.81M459.70 1100.69l3.20 3.81M466.20 1095.23l3.20 3.81M446.70 1118.11l3.20 3.81M453.20 1112.65l3.20 3.81M459.70 1107.19l3.20 3.81M466.20 1101.73l3.20 3.81M446.70 1124.61l3.20 3.81M453.20 1119.15l3.20 3.81M459.70 1113.69l3.20 3.81M466.20 1108.23l3.20 3.81M446.70 1131.11l3.20 3.81M453.20 1125.65l3.20 3.81M459.70 1120.19l3.20 3.81M466.20 1114.73l3.20 3.81M446.70 1137.61l3.20 3.81M453.20 1132.15l3.20 3.81M459.70 1126.69l3.20 3.81M466.20 1121.23l3.20 3.81M446.70 1144.11l3.20 3.81M453.20 1138.65l3.20 3.81M459.70 1133.19l3.20 3.81M466.20 1127.73l3.20 3.81M446.70 1150.61l3.20 3.81M453.20 1145.15l3.20 3.81M459.70 1139.69l3.20 3.81M466.20 1134.23l3.20 3.81M446.70 1157.11l3.20 3.81M453.20 1151.65l3.20 3.81M459.70 1146.19l3.20 3.81M466.20 1140.73l3.20 3.81M446.70 1163.61l3.20 3.81M453.20 1158.15l3.20 3.81M459.70 1152.69l3.20 3.81M466.20 1147.23l3.20 3.81M446.70 1170.11l3.20 3.81M453.20 1164.65l3.20 3.81M459.70 1159.19l3.20 3.81M466.20 1153.73l3.20 3.81M446.70 1176.61l3.20 3.81M453.20 1171.15l3.20 3.81M459.70 1165.69l3.20 3.81M466.20 1160.23l3.20 3.81M446.70 1183.11l3.20 3.81M453.20 1177.65l3.20 3.81M459.70 1172.19l3.20 3.81M466.20 1166.73l3.20 3.81M446.70 1189.61l3.20 3.81M453.20 1184.15l3.20 3.81M459.70 1178.69l3.20 3.81M466.20 1173.23l3.20 3.81M446.70 1196.11l3.20 3.81M453.20 1190.65l3.20 3.81M459.70 1185.19l3.20 3.81M466.20 1179.73l3.20 3.81M446.70 1202.61l3.20 3.81M453.20 1197.15l3.20 3.81M459.70 1191.69l3.20 3.81M466.20 1186.23l3.20 3.81M446.70 1209.11l3.20 3.81M453.20 1203.65l3.20 3.81M459.70 1198.19l3.20 3.81M466.20 1192.73l3.20 3.81M446.70 1215.61l3.20 3.81M453.20 1210.15l3.20 3.81M459.70 1204.69l3.20 3.81M466.20 1199.23l3.20 3.81M446.70 1222.11l3.20 3.81M453.20 1216.65l3.20 3.81M459.70 1211.19l3.20 3.81M466.20 1205.73l3.20 3.81M446.70 1228.61l3.20 3.81M453.20 1223.15l3.20 3.81M459.70 1217.69l3.20 3.81M466.20 1212.23l3.20 3.81M446.70 1235.11l3.20 3.81M453.20 1229.65l3.20 3.81M459.70 1224.19l3.20 3.81M466.20 1218.73l3.20 3.81" stroke-width="1.25"/></g>
<path d="M95.9 979.8V994.8" stroke="#000" stroke-width="2.6" fill="none"/><path d="M89.7 979.8h12.5M89.7 994.8h12.5" stroke="#000" stroke-width="2.3" fill="none"/>
<path d="M121.6 985.6V996.8" stroke="#000" stroke-width="2.6" fill="none"/><path d="M115.3 985.6h12.5M115.3 996.8h12.5" stroke="#000" stroke-width="2.3" fill="none"/>
<path d="M147.2 991.9V993.5" stroke="#000" stroke-width="2.6" fill="none"/><path d="M140.9 991.9h12.5M140.9 993.5h12.5" stroke="#000" stroke-width="2.3" fill="none"/>
<text x="95.6" y="977.1" font-size="17.4" text-anchor="middle">a</text>
<text x="120.6" y="978.2" font-size="17.4" text-anchor="middle">a</text>
<text x="146.2" y="984.2" font-size="17.4" text-anchor="middle">a</text>
<path d="M199.1 1063.6V1067.8" stroke="#000" stroke-width="2.6" fill="none"/><path d="M192.8 1063.6h12.5M192.8 1067.8h12.5" stroke="#000" stroke-width="2.3" fill="none"/>
<path d="M225.1 1034.8V1041.0" stroke="#000" stroke-width="2.6" fill="none"/><path d="M218.8 1034.8h12.5M218.8 1041.0h12.5" stroke="#000" stroke-width="2.3" fill="none"/>
<path d="M251.1 1019.9V1023.7" stroke="#000" stroke-width="2.6" fill="none"/><path d="M244.9 1019.9h12.5M244.9 1023.7h12.5" stroke="#000" stroke-width="2.3" fill="none"/>
<text x="198.2" y="1055.3" font-size="17.4" text-anchor="middle">a</text>
<text x="224.8" y="1025.5" font-size="17.4" text-anchor="middle">b</text>
<text x="249.9" y="1010.2" font-size="17.4" text-anchor="middle">c</text>
<path d="M302.5 1003.2V1008.8" stroke="#000" stroke-width="2.6" fill="none"/><path d="M296.2 1003.2h12.5M296.2 1008.8h12.5" stroke="#000" stroke-width="2.3" fill="none"/>
<path d="M328.4 998.8V1000.0" stroke="#000" stroke-width="2.6" fill="none"/><path d="M322.2 998.8h12.5M322.2 1000.0h12.5" stroke="#000" stroke-width="2.3" fill="none"/>
<path d="M354.4 994.2V998.2" stroke="#000" stroke-width="2.6" fill="none"/><path d="M348.1 994.2h12.5M348.1 998.2h12.5" stroke="#000" stroke-width="2.3" fill="none"/>
<text x="302.0" y="995.8" font-size="17.4" text-anchor="middle">a</text>
<text x="328.3" y="988.1" font-size="17.4" text-anchor="middle">b</text>
<text x="354.2" y="986.4" font-size="17.4" text-anchor="middle">b</text>
<path d="M406.0 1023.7V1030.5" stroke="#000" stroke-width="2.6" fill="none"/><path d="M399.8 1023.7h12.5M399.8 1030.5h12.5" stroke="#000" stroke-width="2.3" fill="none"/>
<path d="M431.9 1012.3V1018.5" stroke="#000" stroke-width="2.6" fill="none"/><path d="M425.6 1012.3h12.5M425.6 1018.5h12.5" stroke="#000" stroke-width="2.3" fill="none"/>
<path d="M457.6 1004.9V1007.7" stroke="#000" stroke-width="2.6" fill="none"/><path d="M451.4 1004.9h12.5M451.4 1007.7h12.5" stroke="#000" stroke-width="2.3" fill="none"/>
<text x="404.3" y="1015.9" font-size="17.4" text-anchor="middle">a</text>
<text x="431.3" y="1002.4" font-size="17.4" text-anchor="middle">b</text>
<text x="457.5" y="994.0" font-size="17.4" text-anchor="middle">c</text>
<rect x="70.2" y="966.1" width="413.7" height="255.8" fill="none" stroke="#000" stroke-width="2.4"/>
<line x1="58.70" y1="1221.90" x2="70.20" y2="1221.90" stroke="#000" stroke-width="2.4"/>
<text x="55.9" y="1228.4" font-size="17.0" text-anchor="end">0</text>
<line x1="58.70" y1="1170.74" x2="70.20" y2="1170.74" stroke="#000" stroke-width="2.4"/>
<text x="55.9" y="1177.2" font-size="17.0" text-anchor="end">2</text>
<line x1="58.70" y1="1119.58" x2="70.20" y2="1119.58" stroke="#000" stroke-width="2.4"/>
<text x="55.9" y="1126.1" font-size="17.0" text-anchor="end">4</text>
<line x1="58.70" y1="1068.42" x2="70.20" y2="1068.42" stroke="#000" stroke-width="2.4"/>
<text x="55.9" y="1074.9" font-size="17.0" text-anchor="end">6</text>
<line x1="58.70" y1="1017.26" x2="70.20" y2="1017.26" stroke="#000" stroke-width="2.4"/>
<text x="55.9" y="1023.8" font-size="17.0" text-anchor="end">8</text>
<line x1="58.70" y1="966.10" x2="70.20" y2="966.10" stroke="#000" stroke-width="2.4"/>
<text x="55.9" y="972.6" font-size="17.0" text-anchor="end">10</text>
<line x1="121.20" y1="1221.90" x2="121.20" y2="1232.40" stroke="#000" stroke-width="2.4"/>
<text x="121.2" y="1251.8" font-size="16.7" text-anchor="middle" textLength="63.1" lengthAdjust="spacing">Control</text>
<line x1="224.80" y1="1221.90" x2="224.80" y2="1232.40" stroke="#000" stroke-width="2.4"/>
<text x="224.8" y="1251.8" font-size="17.6" text-anchor="middle" textLength="24.2" lengthAdjust="spacing">3.0</text>
<line x1="328.30" y1="1221.90" x2="328.30" y2="1232.40" stroke="#000" stroke-width="2.4"/>
<text x="328.3" y="1251.8" font-size="17.6" text-anchor="middle" textLength="23.5" lengthAdjust="spacing">6.0</text>
<line x1="431.50" y1="1221.90" x2="431.50" y2="1232.40" stroke="#000" stroke-width="2.4"/>
<text x="431.5" y="1251.8" font-size="17.6" text-anchor="middle" textLength="23.5" lengthAdjust="spacing">9.0</text>
<text x="266.2" y="1287.3" font-size="17.4" text-anchor="start" textLength="23.6" lengthAdjust="spacing">pH</text>
<text transform="translate(20.2 1094.3) rotate(-90)" font-size="16.6" text-anchor="middle" textLength="240.4" lengthAdjust="spacing">Survival cells (log<tspan font-size="10.8" dy="3.8">10</tspan><tspan dy="-3.8"> CFU/g)</tspan></text>
<rect x="504.6" y="964.8" width="27.7" height="13.6" fill="#363636"/>
<rect x="508.8" y="969.0" width="19.3" height="5.2" fill="#363636"/>
<rect x="511.8" y="971.2" width="1.4" height="1.4" fill="#e6e6e6"/>
<rect x="517.0" y="971.2" width="1.4" height="1.4" fill="#e6e6e6"/>
<rect x="522.2" y="971.2" width="1.4" height="1.4" fill="#e6e6e6"/>
<rect x="527.4" y="971.2" width="1.4" height="1.4" fill="#e6e6e6"/>
<text x="548.4" y="978.4" font-size="20.8" text-anchor="start" textLength="95.1" lengthAdjust="spacing">Free cells</text>
<rect x="504.6" y="999.4" width="27.7" height="13.9" fill="#878787"/>
<rect x="508.8" y="1003.8" width="19.0" height="5.1" fill="#fff"/>
<path d="M514.5 1003.8v5.1M525.7 1003.8v5.1" stroke="#8c8c8c" stroke-width="1.2"/>
<text x="548.4" y="1013.0" font-size="20.8" text-anchor="start" textLength="39.8" lengthAdjust="spacing">WPI</text>
<rect x="504.6" y="1034.1" width="27.7" height="13.9" fill="#d2d2d2"/>
<rect x="508.8" y="1038.5" width="19.0" height="5.1" fill="#ccc"/>
<path d="M510.0 1043.5h3.0l2.2 -5h-3.0zM515.0 1043.5h3.0l2.2 -5h-3.0zM520.0 1043.5h3.0l2.2 -5h-3.0zM525.0 1043.5h3.0l2.2 -5h-3.0z" fill="#2a2a2a"/>
<text x="548.4" y="1047.7" font-size="20.8" text-anchor="start" textLength="92.1" lengthAdjust="spacing">WPI-NCS</text>
</g>
</svg></body></html>
